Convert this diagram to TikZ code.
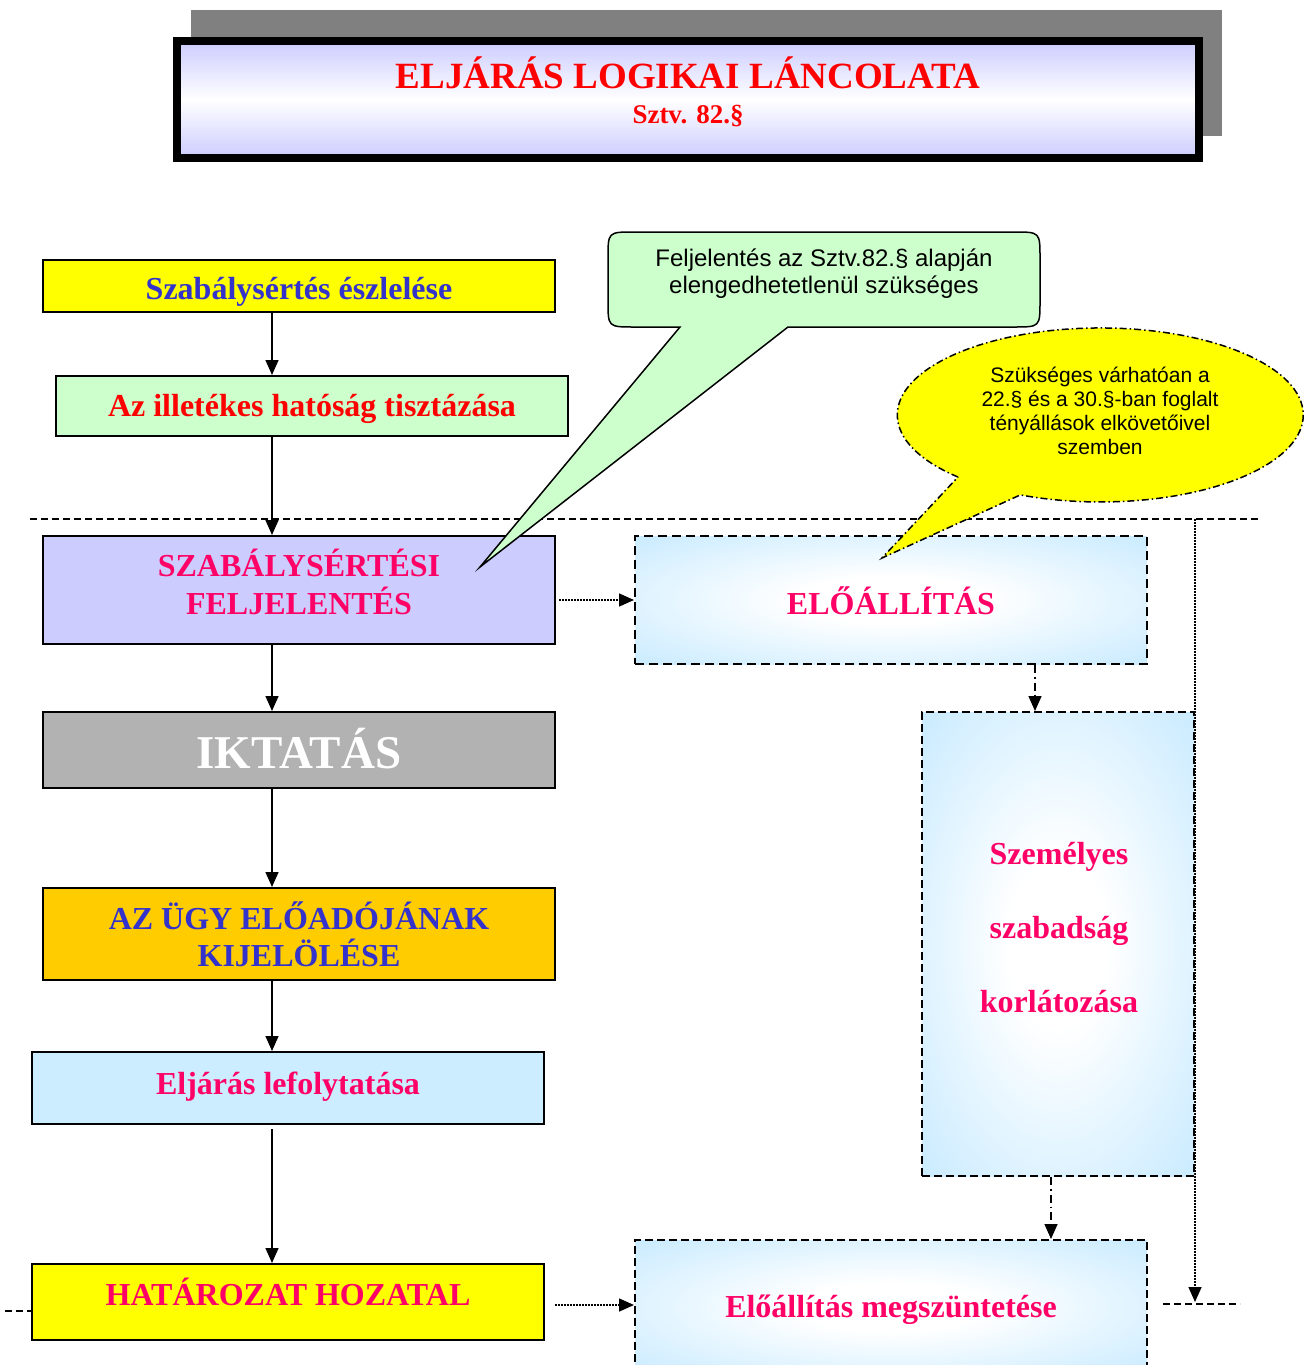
\documentclass[tikz,border=0pt]{standalone}
\usepackage{fontspec}
\setmainfont{Liberation Serif}
\newfontfamily\arialf{Liberation Sans}
\usetikzlibrary{arrows.meta,calc}
\definecolor{tblue}{HTML}{3333CC}
\definecolor{tred}{HTML}{FF0000}
\definecolor{tmag}{HTML}{FF0066}
\definecolor{fyellow}{HTML}{FFFF00}
\definecolor{fgreen}{HTML}{CCFFCC}
\definecolor{flav}{HTML}{CCCCFF}
\definecolor{fgray}{HTML}{B2B2B2}
\definecolor{fgold}{HTML}{FFCC00}
\definecolor{fblue}{HTML}{CCECFF}
\definecolor{shadowgray}{HTML}{808080}
\pgfdeclareradialshading{glow}{\pgfpoint{0bp}{0bp}}{color(0bp)=(white); color(9bp)=(white); color(34bp)=(fblue); color(50bp)=(fblue)}
\begin{document}
\begin{tikzpicture}[x=1pt,y=-1pt,
  box/.style={draw=black, line width=2pt, inner sep=0pt, minimum width=512pt},
  dbox/.style={draw=black, line width=2pt, dash pattern=on 9pt off 5pt, shade, shading=glow, inner sep=0pt},
  btext/.style={font=\fontsize{32}{38}\selectfont\bfseries, align=center, inner sep=0pt},
  ctext/.style={font=\arialf, align=center, inner sep=0pt},
  arr/.style={-{Triangle[length=15pt,width=13pt]}, line width=1.5pt},
  dotarr/.style={-{Triangle[length=15pt,width=13pt]}, line width=1.5pt, dash pattern=on 1.5pt off 1.5pt},
  dasharr/.style={-{Triangle[length=15pt,width=13pt]}, line width=1.5pt, dash pattern=on 8pt off 4pt on 1.5pt off 4pt},
  sep/.style={line width=1.5pt, dash pattern=on 7pt off 4pt}
]
\useasboundingbox (0,0) rectangle (1308,1365);

% title
\fill[shadowgray] (191,10) rectangle (1222,136);
\node[draw=black, line width=8pt, minimum width=1022pt, minimum height=117pt, inner sep=0pt,
  top color=flav, bottom color=flav, middle color=white] (title) at (688,99.5) {};
\node[inner sep=0pt, text=tred, font=\fontsize{37}{40}\selectfont\bfseries] (ttl) at (688,72.5) {ELJÁRÁS LOGIKAI LÁNCOLATA};
\node[inner sep=0pt, text=tred, font=\fontsize{27}{30}\selectfont\bfseries] (sub) at (688,116) {Sztv. 82.§};

% separator lines
\coordinate (hl1) at (30,519);
\coordinate (hl2) at (1258,519);
\draw[sep] (hl1) -- (hl2);
\coordinate (vt) at (1195,519);
\coordinate (vb) at (1195,1302);
\draw[dotarr] (vt) -- (vb);
\coordinate (rl1) at (1163,1304);
\coordinate (rl2) at (1240,1304);
\draw[sep] (rl1) -- (rl2);

% left column
\node[box, fill=fyellow, minimum height=52pt] (n1) at (299,286) {};
\node[btext, text=tblue] (t1) at (299,292) {Szabálysértés észlelése};
\node[box, fill=fgreen, minimum height=60pt] (n2) at (312,406) {};
\node[btext, text=tred] (t2) at (312,409) {Az illetékes hatóság tisztázása};
\node[box, fill=flav, minimum height=108pt] (n3) at (299,590) {};
\node[btext, text=tmag] (t3) at (299,582) {SZABÁLYSÉRTÉSI\\FELJELENTÉS};
\node[box, fill=fgray, minimum height=76pt] (n4) at (299,750) {};
\node[btext, text=white, font=\fontsize{47}{52}\selectfont\bfseries] (t4) at (299,749) {IKTATÁS};
\node[box, fill=fgold, minimum height=92pt] (n5) at (299,934) {};
\node[btext, text=tblue, font=\fontsize{32}{37}\selectfont\bfseries] (t5) at (299,934) {AZ ÜGY ELŐADÓJÁNAK\\KIJELÖLÉSE};
\node[box, fill=fblue, minimum height=72pt] (n6) at (288,1088) {};
\node[btext, text=tmag] (t6) at (288,1087) {Eljárás lefolytatása};
\node[box, fill=fyellow, minimum height=76pt] (n7) at (288,1302) {};
\node[btext, text=tmag] (t7) at (288,1292) {HATÁROZAT HOZATAL};

% right column
\node[dbox, minimum width=512pt, minimum height=128pt] (e1) at (891,600) {};
\node[btext, text=tmag] (te1) at (891,601) {ELŐÁLLÍTÁS};
\node[dbox, dash pattern=on 8pt off 4pt, minimum width=272pt, minimum height=464pt] (e2) at (1058,944) {};
\node[btext, text=tmag, font=\fontsize{32}{74}\selectfont\bfseries] (te2) at (1059,928) {Személyes\\szabadság\\korlátozása};
\node[dbox, dash pattern=on 8pt off 4pt, minimum width=512pt, minimum height=134pt] (e3) at (891,1307) {};
\node[btext, text=tmag] (te3) at (891,1310) {Előállítás megszüntetése};

% connectors
\coordinate (ax) at (272,0);
\draw[arr] (n1.south -| ax) -- (n2.north -| ax);
\draw[arr] (n2.south -| ax) -- (n3.north -| ax);
\draw[arr] (n3.south -| ax) -- (n4.north -| ax);
\draw[arr] (n4.south -| ax) -- (n5.north -| ax);
\draw[arr] (n5.south -| ax) -- (n6.north -| ax);
\draw[arr] ($(n6.south -| ax)+(0,4)$) -- (n7.north -| ax);
\draw[dotarr] ($(e1.west -| n3.east)+(3,0)$) -- (e1.west);
\draw[dotarr] ($(e3.west -| n7.east)+(10,-2)$) -- ($(e3.west)+(0,-2)$);
\coordinate (bx) at (1035,0);
\draw[dasharr] (e1.south -| bx) -- (e2.north -| bx);
\coordinate (cx) at (1051,0);
\draw[dasharr] (e2.south -| cx) -- (e3.north -| cx);
\coordinate (ll) at (5,1311);
\draw[sep] (ll) -- (ll -| n7.west);

% callouts
\coordinate (c1a) at (680,327);
\coordinate (c1b) at (788,327);
\coordinate (c1tip) at (480,567);
\filldraw[fill=fgreen, draw=black, line width=1.5pt]
  (c1a) -- (634,327) .. controls (608,327) .. (608,301) -- (608,258) .. controls (608,232) .. (634,232)
  -- (1014,232) .. controls (1040,232) .. (1040,258) -- (1040,301) .. controls (1040,327) .. (1014,327)
  -- (c1b) -- (c1tip) -- cycle;
\node[ctext, font=\arialf\fontsize{24}{27}\selectfont] (c1t) at (824,274) {Feljelentés az Sztv.82.§ alapján\\elengedhetetlenül szükséges};

\coordinate (c2a) at (958,477);
\coordinate (c2tip) at (882,558);
\filldraw[fill=fyellow, draw=black, line width=1.5pt, dash pattern=on 7pt off 3pt on 1.5pt off 3pt]
  (c2a) arc[start angle=134.5, end angle=473.2, x radius=203, y radius=87] -- (c2tip) -- cycle;
\node[ctext, font=\arialf\fontsize{21}{24}\selectfont] (c2t) at (1100,411) {Szükséges várhatóan a\\22.§ és a 30.§-ban foglalt\\tényállások elkövetőivel\\szemben};
\end{tikzpicture}
\end{document}
